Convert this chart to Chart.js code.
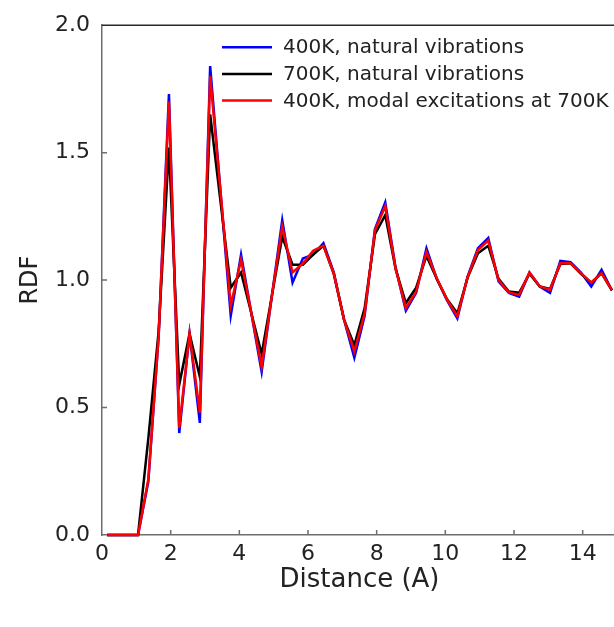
<!DOCTYPE html>
<html>
<head>
<meta charset="utf-8">
<script src="https://cdn.jsdelivr.net/npm/chart.js@4"></script>
<style>
  html, body { margin: 0; padding: 0; background: #fff; overflow: hidden; }
  #wrap { width: 640px; height: 627px; }
</style>
</head>
<body>
<div id="wrap"><canvas id="rdf" width="640" height="627"></canvas></div>
<script>
// RDF data, bins of 0.3 A
const distances = [0.15, 0.45, 0.75, 1.05, 1.35, 1.65, 1.95, 2.25, 2.55, 2.85,
  3.15, 3.45, 3.75, 4.05, 4.35, 4.65, 4.95, 5.25, 5.55, 5.85,
  6.15, 6.45, 6.75, 7.05, 7.35, 7.65, 7.95, 8.25, 8.55, 8.85,
  9.15, 9.45, 9.75, 10.05, 10.35, 10.65, 10.95, 11.25, 11.55, 11.85,
  12.15, 12.45, 12.75, 13.05, 13.35, 13.65, 13.95, 14.25, 14.55, 14.85];

const rdf400Natural = [0, 0, 0, 0, 0.21, 0.78, 1.73, 0.40, 0.79, 0.44,
  1.84, 1.35, 0.86, 1.10, 0.87, 0.64, 0.94, 1.235, 0.99, 1.085,
  1.10, 1.145, 1.03, 0.845, 0.695, 0.86, 1.20, 1.305, 1.05, 0.88,
  0.95, 1.125, 1.005, 0.92, 0.85, 1.015, 1.125, 1.165, 0.995, 0.95,
  0.935, 1.03, 0.975, 0.95, 1.075, 1.07, 1.03, 0.975, 1.04, 0.96];

const rdf700Natural = [0, 0, 0, 0, 0.38, 0.80, 1.52, 0.59, 0.79, 0.62,
  1.65, 1.31, 0.97, 1.03, 0.87, 0.71, 0.94, 1.17, 1.06, 1.06,
  1.10, 1.135, 1.025, 0.845, 0.745, 0.89, 1.18, 1.255, 1.045, 0.91,
  0.97, 1.095, 1.005, 0.925, 0.87, 1.01, 1.105, 1.135, 1.005, 0.955,
  0.95, 1.025, 0.975, 0.965, 1.063, 1.066, 1.025, 0.99, 1.027, 0.96];

const rdf400Modal = [0, 0, 0, 0, 0.22, 0.78, 1.70, 0.42, 0.79, 0.48,
  1.80, 1.35, 0.90, 1.08, 0.87, 0.66, 0.94, 1.21, 1.03, 1.065,
  1.115, 1.135, 1.027, 0.845, 0.72, 0.87, 1.195, 1.29, 1.046, 0.89,
  0.955, 1.11, 1.007, 0.923, 0.858, 1.012, 1.118, 1.155, 1.0, 0.952,
  0.942, 1.03, 0.975, 0.962, 1.066, 1.066, 1.027, 0.99, 1.027, 0.962];

const seriesLabels = ['400K, natural vibrations', '700K, natural vibrations', '400K, modal excitations at 700K'];
const seriesColors = ['#0000ff', '#000000', '#ff0000'];
const xTicks = [0, 2, 4, 6, 8, 10, 12, 14];
const yTicks = [0, 0.5, 1.0, 1.5, 2.0];

const FONT = '"DejaVu Sans", sans-serif';

function toPoints(ys) {
  return distances.map((d, i) => ({ x: d, y: ys[i] }));
}

// inward tick marks + top frame line
const frameTicks = {
  id: 'frameTicks',
  beforeDatasetsDraw(chart) {
    const { ctx, chartArea, scales } = chart;
    ctx.save();
    ctx.strokeStyle = '#6e6e6e';
    ctx.lineWidth = 1.5;
    ctx.beginPath();
    scales.x.ticks.forEach(t => {
      if (t.value <= 0) return;
      const px = scales.x.getPixelForValue(t.value);
      ctx.moveTo(px, chartArea.bottom);
      ctx.lineTo(px, chartArea.bottom - 5);
    });
    scales.y.ticks.forEach(t => {
      if (t.value <= 0 || t.value >= 2) return;
      const py = scales.y.getPixelForValue(t.value);
      ctx.moveTo(chartArea.left, py);
      ctx.lineTo(chartArea.left + 5, py);
    });
    ctx.stroke();
    ctx.strokeStyle = '#2a2a2a';
    ctx.lineWidth = 1.5;
    ctx.beginPath();
    ctx.moveTo(chartArea.left, chartArea.top);
    ctx.lineTo(chartArea.right, chartArea.top);
    ctx.stroke();
    ctx.restore();
  }
};

// legend inside the plot, top right
const innerLegend = {
  id: 'innerLegend',
  afterDraw(chart) {
    const { ctx, chartArea } = chart;
    const x0 = chartArea.left + 120;
    const y0 = chartArea.top + 22;
    ctx.save();
    ctx.font = '20px ' + FONT;
    ctx.textBaseline = 'middle';
    chart.data.datasets.forEach((ds, i) => {
      const y = y0 + i * 26.7;
      ctx.strokeStyle = ds.borderColor;
      ctx.lineWidth = 2.5;
      ctx.beginPath();
      ctx.moveTo(x0, y);
      ctx.lineTo(x0 + 50, y);
      ctx.stroke();
      ctx.fillStyle = '#222';
      ctx.fillText(ds.label, x0 + 61, y + 1);
    });
    ctx.restore();
  }
};

new Chart(document.getElementById('rdf'), {
  type: 'line',
  data: {
    datasets: [
      { label: seriesLabels[0], data: toPoints(rdf400Natural), borderColor: seriesColors[0], order: 3 },
      { label: seriesLabels[1], data: toPoints(rdf700Natural), borderColor: seriesColors[1], order: 2 },
      { label: seriesLabels[2], data: toPoints(rdf400Modal), borderColor: seriesColors[2], order: 1 }
    ].map(ds => Object.assign(ds, {
      borderWidth: 2.5, pointRadius: 0, tension: 0, fill: false, clip: false,
      borderJoinStyle: 'miter'
    }))
  },
  options: {
    responsive: false,
    animation: false,
    devicePixelRatio: 1,
    layout: { padding: { top: 21, right: 23, bottom: 0, left: 0 } },
    plugins: { legend: { display: false }, tooltip: { enabled: false } },
    scales: {
      x: {
        type: 'linear',
        min: 0, max: 15,
        afterBuildTicks: s => { s.ticks = xTicks.map(v => ({ value: v })); },
        afterFit: s => { s.height = 92; },
        ticks: { autoSkip: false, color: '#222', font: { family: FONT, size: 22 }, padding: 6, maxRotation: 0 },
        grid: { display: false, drawTicks: false },
        border: { display: true, color: '#6e6e6e', width: 1.5 },
        title: { display: true, text: 'Distance (A)', color: '#222', font: { family: FONT, size: 26 }, padding: { top: 0, bottom: 31 } }
      },
      y: {
        min: 0, max: 2,
        afterBuildTicks: s => { s.ticks = yTicks.map(v => ({ value: v })); },
        afterFit: s => { s.width = 102; },
        ticks: { color: '#222', font: { family: FONT, size: 22 }, padding: 12, callback: v => Number(v).toFixed(1) },
        grid: { display: false, drawTicks: false },
        border: { display: true, color: '#6e6e6e', width: 1.5 },
        title: { display: true, text: 'RDF', color: '#222', font: { family: FONT, size: 24 }, padding: { top: 16, bottom: 0 } }
      }
    }
  },
  plugins: [frameTicks, innerLegend]
});
</script>
</body>
</html>
